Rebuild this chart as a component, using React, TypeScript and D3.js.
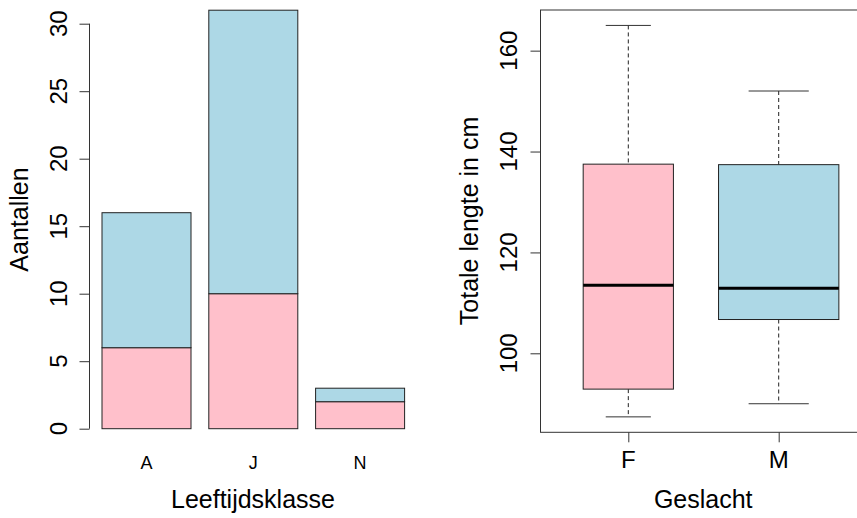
import React, { useEffect, useRef } from "react";
import * as d3 from "d3";

// stacked bars: age class counts split by sex
const classes = ["A", "J", "N"];
const femaleCounts = [6, 10, 2];
const maleCounts = [10, 21, 1];
const countTicks = [0, 5, 10, 15, 20, 25, 30];

// boxplot: total length (cm) per sex
const sexes = ["F", "M"];
const lowerWhisker = [87.4, 90];
const lowerQuartile = [92.9, 106.7];
const medians = [113.5, 112.9];
const upperQuartile = [137.5, 137.4];
const upperWhisker = [165, 152];
const lengthTicks = [100, 120, 140, 160];

const W = 857;
const H = 518;
const FONT = "'Liberation Sans', Arial, sans-serif";
const PINK = "#FFC0CB";
const BLUE = "#ADD8E6";

export default function App() {
  const ref = useRef<SVGSVGElement>(null);

  useEffect(() => {
    const svg = d3.select(ref.current);
    svg.selectAll("*").remove();

    // ---- left panel: barplot ----
    const y1 = d3.scaleLinear().domain([0, 30]).range([428.7, 23.7]);
    const x1 = d3.scaleBand().domain(classes).range([84.2, 422.4]).padding(1 / 6);

    const left = svg.append("g");
    const stack = classes.map((c, i) => ({ c, f: femaleCounts[i], m: maleCounts[i] }));

    left
      .selectAll("rect.f")
      .data(stack)
      .join("rect")
      .attr("x", (d) => x1(d.c)!)
      .attr("width", x1.bandwidth())
      .attr("y", (d) => y1(d.f))
      .attr("height", (d) => y1(0) - y1(d.f))
      .attr("fill", PINK)
      .attr("stroke", "#222")
      .attr("stroke-width", 1);

    left
      .selectAll("rect.m")
      .data(stack)
      .join("rect")
      .attr("x", (d) => x1(d.c)!)
      .attr("width", x1.bandwidth())
      .attr("y", (d) => y1(d.f + d.m))
      .attr("height", (d) => y1(d.f) - y1(d.f + d.m))
      .attr("fill", BLUE)
      .attr("stroke", "#222")
      .attr("stroke-width", 1);

    const yAxis1 = left.append("g").attr("transform", "translate(89.5,0)")
      .call(d3.axisLeft(y1).tickValues(countTicks).tickSize(10).tickFormat(() => ""));
    yAxis1.selectAll("path,line").attr("stroke", "#333");
    yAxis1.select(".domain").attr("d", `M0,${y1(0)}V${y1(30)}`);

    left
      .selectAll("text.yt")
      .data(countTicks)
      .join("text")
      .attr("transform", (d) => `translate(67,${y1(d)}) rotate(-90)`)
      .attr("text-anchor", "middle")
      .attr("font-family", FONT)
      .attr("font-size", 24)
      .text((d) => d);

    left
      .selectAll("text.xt")
      .data(classes)
      .join("text")
      .attr("x", (d) => x1(d)! + x1.bandwidth() / 2)
      .attr("y", 469)
      .attr("text-anchor", "middle")
      .attr("font-family", FONT)
      .attr("font-size", 18)
      .text((d) => d);

    left.append("text")
      .attr("x", 253)
      .attr("y", 508)
      .attr("text-anchor", "middle")
      .attr("font-family", FONT)
      .attr("font-size", 25)
      .text("Leeftijdsklasse");

    left.append("text")
      .attr("transform", "translate(28,219.5) rotate(-90)")
      .attr("text-anchor", "middle")
      .attr("font-family", FONT)
      .attr("font-size", 25)
      .text("Aantallen");

    // ---- right panel: boxplot ----
    const y2 = d3.scaleLinear().domain([84.34, 168.06]).range([432.3, 10]);
    const x2 = d3.scalePoint().domain(sexes).range([628.3, 778.7]);
    const step = x2.step();
    const frameL = 540.5;
    const frameR = 866;

    const right = svg.append("g");
    right.append("rect")
      .attr("x", frameL)
      .attr("y", 10)
      .attr("width", frameR - frameL)
      .attr("height", 432.3 - 10)
      .attr("fill", "none")
      .attr("stroke", "#333");

    // varwidth: box width ~ sqrt(group size)
    const n = [d3.sum(femaleCounts), d3.sum(maleCounts)];
    const maxN = d3.max(n)!;
    const boxes = sexes.map((s, i) => ({
      s,
      lo: lowerWhisker[i],
      q1: lowerQuartile[i],
      med: medians[i],
      q3: upperQuartile[i],
      hi: upperWhisker[i],
      w: 0.8 * step * Math.sqrt(n[i] / maxN),
      fill: i === 0 ? PINK : BLUE,
    }));

    const bx = right.selectAll("g.box").data(boxes).join("g");
    bx.append("line")
      .attr("x1", (d) => x2(d.s)!)
      .attr("x2", (d) => x2(d.s)!)
      .attr("y1", (d) => y2(d.hi))
      .attr("y2", (d) => y2(d.q3))
      .attr("stroke", "#222")
      .attr("stroke-dasharray", "4,3");
    bx.append("line")
      .attr("x1", (d) => x2(d.s)!)
      .attr("x2", (d) => x2(d.s)!)
      .attr("y1", (d) => y2(d.q1))
      .attr("y2", (d) => y2(d.lo))
      .attr("stroke", "#222")
      .attr("stroke-dasharray", "4,3");
    bx.append("line")
      .attr("x1", (d) => x2(d.s)! - d.w / 4)
      .attr("x2", (d) => x2(d.s)! + d.w / 4)
      .attr("y1", (d) => y2(d.hi))
      .attr("y2", (d) => y2(d.hi))
      .attr("stroke", "#333");
    bx.append("line")
      .attr("x1", (d) => x2(d.s)! - d.w / 4)
      .attr("x2", (d) => x2(d.s)! + d.w / 4)
      .attr("y1", (d) => y2(d.lo))
      .attr("y2", (d) => y2(d.lo))
      .attr("stroke", "#333");
    bx.append("rect")
      .attr("x", (d) => x2(d.s)! - d.w / 2)
      .attr("width", (d) => d.w)
      .attr("y", (d) => y2(d.q3))
      .attr("height", (d) => y2(d.q1) - y2(d.q3))
      .attr("fill", (d) => d.fill)
      .attr("stroke", "#222");
    bx.append("line")
      .attr("x1", (d) => x2(d.s)! - d.w / 2)
      .attr("x2", (d) => x2(d.s)! + d.w / 2)
      .attr("y1", (d) => y2(d.med))
      .attr("y2", (d) => y2(d.med))
      .attr("stroke", "#000")
      .attr("stroke-width", 3);

    const yAxis2 = right.append("g").attr("transform", `translate(${frameL},0)`)
      .call(d3.axisLeft(y2).tickValues(lengthTicks).tickSize(10).tickFormat(() => ""));
    yAxis2.select(".domain").remove();
    yAxis2.selectAll("line").attr("stroke", "#333");

    const xAxis2 = right.append("g").attr("transform", "translate(0,432.3)")
      .call(d3.axisBottom(x2).tickSize(10).tickFormat(() => ""));
    xAxis2.select(".domain").remove();
    xAxis2.selectAll("line").attr("stroke", "#333");

    right
      .selectAll("text.yt")
      .data(lengthTicks)
      .join("text")
      .attr("transform", (d) => `translate(517,${y2(d)}) rotate(-90)`)
      .attr("text-anchor", "middle")
      .attr("font-family", FONT)
      .attr("font-size", 24)
      .text((d) => d);

    right
      .selectAll("text.xt")
      .data(sexes)
      .join("text")
      .attr("x", (d) => x2(d)!)
      .attr("y", 468)
      .attr("text-anchor", "middle")
      .attr("font-family", FONT)
      .attr("font-size", 24)
      .text((d) => d);

    right.append("text")
      .attr("x", (frameL + frameR) / 2)
      .attr("y", 508)
      .attr("text-anchor", "middle")
      .attr("font-family", FONT)
      .attr("font-size", 25)
      .text("Geslacht");

    right.append("text")
      .attr("transform", "translate(478,221) rotate(-90)")
      .attr("text-anchor", "middle")
      .attr("font-family", FONT)
      .attr("font-size", 25)
      .text("Totale lengte in cm");
  }, []);

  return (
    <svg
      ref={ref}
      width={W}
      height={H}
      style={{ position: "absolute", left: 0, top: 0, background: "#fff" }}
    />
  );
}
